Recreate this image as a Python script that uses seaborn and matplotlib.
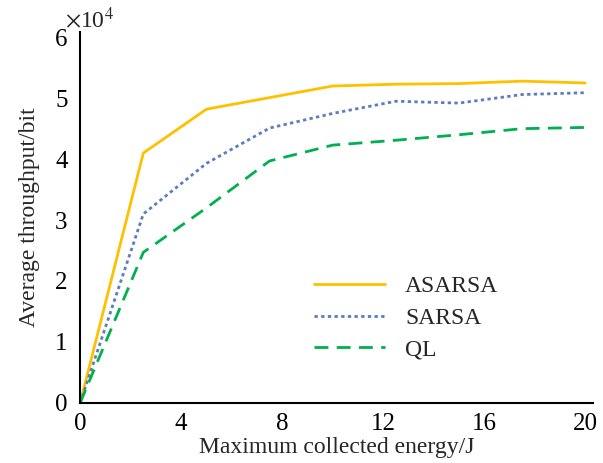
import matplotlib
matplotlib.use("Agg")
import matplotlib.pyplot as plt
import seaborn as sns
import pandas as pd
from matplotlib.ticker import MultipleLocator

energy = [0, 2.5, 5, 7.5, 10, 12.5, 15, 17.5, 20]
asarsa = [0, 4.10, 4.82, 5.01, 5.20, 5.23, 5.24, 5.28, 5.25]
sarsa = [0, 3.10, 3.93, 4.51, 4.75, 4.95, 4.92, 5.06, 5.09]
ql = [0, 2.47, 3.20, 3.97, 4.23, 4.31, 4.40, 4.50, 4.52]
series_names = ["ASARSA", "SARSA", "QL"]
x_ticks = [0, 4, 8, 12, 16, 20]
y_ticks = [0, 1, 2, 3, 4, 5, 6]

sns.set_style("white")
plt.rcParams["font.family"] = ["Liberation Serif", "DejaVu Serif"]
plt.rcParams["mathtext.fontset"] = "stix"

df = pd.DataFrame({
    "x": energy * 3,
    "y": asarsa + sarsa + ql,
    "method": [series_names[0]] * len(energy) + [series_names[1]] * len(energy) + [series_names[2]] * len(energy),
})

fig = plt.figure(figsize=(6.03, 4.63), dpi=100)
ax = fig.add_axes([0.133, 0.130, 0.85, 0.80])

colors = {"ASARSA": "#FFC000", "SARSA": "#5B7DBF", "QL": "#00B050"}
dashes = {"ASARSA": "", "SARSA": (1.2, 1.2), "QL": (5, 3)}
sns.lineplot(data=df, x="x", y="y", hue="method", style="method",
             palette=colors, dashes=dashes, linewidth=2, ax=ax)

ax.set_xlim(0, 20.3)
ax.set_ylim(0, 6.08)
ax.set_xticks(x_ticks)
ax.xaxis.set_minor_locator(MultipleLocator(2))
ax.set_yticks(y_ticks)
ax.tick_params(axis="both", which="both", direction="in", length=6, width=1.2,
               labelsize=18, colors="black")
ax.tick_params(axis="x", pad=7)
ax.tick_params(axis="y", pad=9)
for s in ["top", "right"]:
    ax.spines[s].set_visible(False)
for s in ["left", "bottom"]:
    ax.spines[s].set_linewidth(1.5)
    ax.spines[s].set_color("black")

ax.set_xlabel("Maximum collected energy/J", fontsize=17, labelpad=2)
ax.set_ylabel("Average throughput/bit", fontsize=17, labelpad=11)
ax.text(-0.03, 1.0, r"$\times$10$^4$", transform=ax.transAxes, fontsize=17,
        ha="left", va="bottom")

leg = ax.legend(loc="upper left", bbox_to_anchor=(0.415, 0.40), frameon=False,
                fontsize=17, handlelength=3.0, handletextpad=0.85, labelspacing=0.42)
leg.set_title(None)

fig.savefig("out.png", dpi=100)
